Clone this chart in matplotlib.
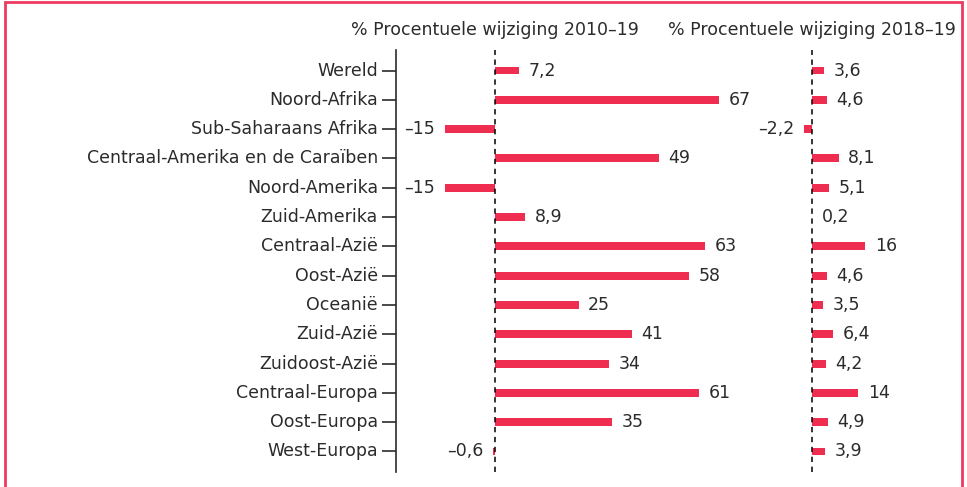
import matplotlib
matplotlib.use('Agg')
import matplotlib.pyplot as plt
from matplotlib.patches import Rectangle

regions = ['Wereld', 'Noord-Afrika', 'Sub-Saharaans Afrika',
           'Centraal-Amerika en de Caraïben', 'Noord-Amerika', 'Zuid-Amerika',
           'Centraal-Azië', 'Oost-Azië', 'Oceanië', 'Zuid-Azië',
           'Zuidoost-Azië', 'Centraal-Europa', 'Oost-Europa', 'West-Europa']
change_2010_19 = [7.2, 67, -15, 49, -15, 8.9, 63, 58, 25, 41, 34, 61, 35, -0.6]
change_2018_19 = [3.6, 4.6, -2.2, 8.1, 5.1, 0.2, 16, 4.6, 3.5, 6.4, 4.2, 14, 4.9, 3.9]
titles = ['% Procentuele wijziging 2010–19', '% Procentuele wijziging 2018–19']

plt.rcParams['font.family'] = ['DejaVu Sans']
text_color = '#2b2b2b'
bar_color = '#ee2d50'
frame_color = '#ee3a5f'
fs = 12.5

W, H = 967, 487
fig = plt.figure(figsize=(W / 100, H / 100), dpi=100)

# pixel layout
px_per_unit = 3.34
top_px, bottom_px = 50, 472
y_bottom = 1 - bottom_px / H
y_height = (bottom_px - top_px) / H


def make_axes(left_px, right_px, zero_px):
    ax = fig.add_axes([left_px / W, y_bottom, (right_px - left_px) / W, y_height])
    ax.set_xlim((left_px - zero_px) / px_per_unit, (right_px - zero_px) / px_per_unit)
    ax.set_ylim(len(regions) - 1 + 0.7, -0.7)
    ax.patch.set_alpha(0)
    return ax


ax1 = make_axes(396, 770, 495)
ax2 = make_axes(780, 960, 811.5)


def fmt(v):
    s = ('%g' % abs(v)).replace('.', ',')
    return ('–' + s) if v < 0 else s


for ax, vals, title in [(ax1, change_2010_19, titles[0]), (ax2, change_2018_19, titles[1])]:
    ypos = range(len(vals))
    ax.barh(ypos, vals, height=0.27, color=bar_color)
    ax.axvline(0, color='black', lw=1.1, ls=(0, (3.5, 3)))
    for y, v in zip(ypos, vals):
        if v >= 0:
            ax.annotate(fmt(v), (v, y), xytext=(7, 0), textcoords='offset points',
                        ha='left', va='center', fontsize=fs, color=text_color)
        else:
            ax.annotate(fmt(v), (v, y), xytext=(-7, 0), textcoords='offset points',
                        ha='right', va='center', fontsize=fs, color=text_color)
    ax.text(0, 1.047, title, transform=ax.get_xaxis_transform(), ha='center',
            va='center', fontsize=fs, color=text_color)
    ax.set_xticks([])
    for s in ['top', 'right', 'bottom']:
        ax.spines[s].set_visible(False)

ax1.spines['left'].set_color(text_color)
ax1.spines['left'].set_linewidth(1.2)
ax1.set_yticks(range(len(regions)))
ax1.set_yticklabels(regions, fontsize=fs, color=text_color, va='center')
ax1.tick_params(axis='y', length=10, width=1.2, color=text_color, pad=3)

ax2.spines['left'].set_visible(False)
ax2.set_yticks([])

fig.patches.append(Rectangle((5 / W, -0.05), 957 / W, 1.05 - 1.5 / H,
                             transform=fig.transFigure, fill=False,
                             edgecolor=frame_color, lw=2))

fig.savefig('out.png', dpi=100)
